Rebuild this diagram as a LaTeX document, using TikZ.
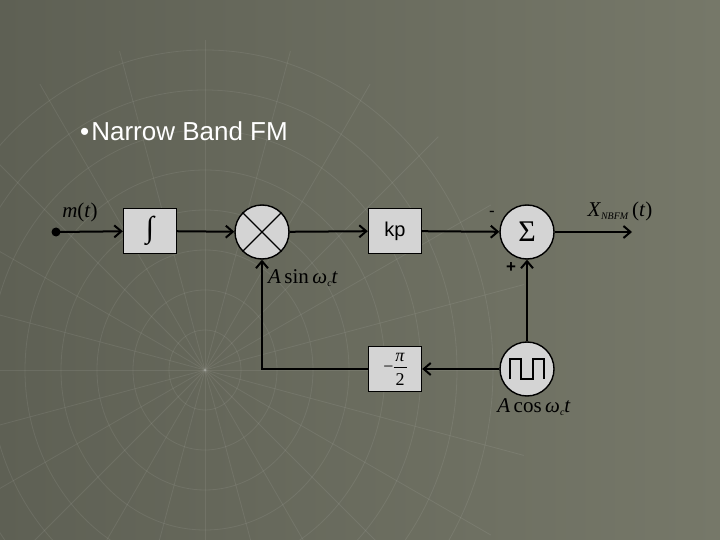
\documentclass[tikz,border=0pt]{standalone}
\usepackage{fontspec}
\usetikzlibrary{arrows.meta}
\setmainfont{Liberation Serif}
\setsansfont{Liberation Sans}
\definecolor{bgl}{HTML}{5E6054}
\definecolor{bgr}{HTML}{767869}
\definecolor{boxf}{HTML}{D4D4D4}
\newcommand{\sub}[1]{\raisebox{-0.35ex}{\fontsize{10}{10}\selectfont #1}}
\begin{document}
\begin{tikzpicture}[x=1pt,y=-1pt,
  blk/.style={draw=black,line width=1.4pt,fill=boxf,minimum width=53pt,minimum height=45pt,inner sep=0pt},
  circ/.style={draw=black,line width=1.4pt,fill=boxf,circle,minimum size=54pt,inner sep=0pt},
  wire/.style={line width=2pt,-{Straight Barb[length=7pt,width=12pt,line width=2pt]}},
  lbl/.style={font=\fontsize{21}{22}\selectfont}]
\shade[left color=bgl, right color=bgr] (0,0) rectangle (720,540);
\useasboundingbox (0,0) rectangle (720,540);
\begin{scope}[draw=white,opacity=0.08,line width=0.8pt]
  \foreach \r in {40,80,...,320} \draw (205,370) ellipse ({\r*0.9} and \r);
  \foreach \a in {0,15,...,345} \draw (205,370) -- ++(\a:330);
\end{scope}
\node[anchor=west,font=\sffamily\fontsize{26}{28}\selectfont,text=white,inner sep=0pt] (title) at (80,131) {\fontsize{26}{26}\selectfont\textbullet\hspace{2pt}Narrow Band FM};
\fill (56,232) circle (4.5pt);
\coordinate (in) at (56,232);
\node[blk] (int) at (150,231) {\fontsize{30}{30}\selectfont ∫};
\node[circ] (mul) at (262,232) {};
\draw[line width=1.4pt] (mul.45) -- (mul.225) (mul.135) -- (mul.315);
\node[blk] (kp) at (395,231) {\sffamily\fontsize{20}{22}\selectfont kp};
\node[circ] (sum) at (527,232) {\fontsize{30}{30}\selectfont Σ};
\node[circ] (osc) at (527,369) {};
\draw[line width=1.8pt] (osc.center) ++(-17,10) -- ++(0,-20) -- ++(11,0) -- ++(0,20) -- ++(12,0) -- ++(0,-20) -- ++(11,0) -- ++(0,20);
\node[blk,align=center,font=\fontsize{18}{15}\selectfont] (ph) at (395,369) {\hphantom{−}\textit{π}\\[-4pt]−\rule[4pt]{13pt}{0.7pt}\\[-2pt]\hphantom{−}2};
\coordinate (out) at (632,232);
\draw[wire] (in) -- (int);
\draw[wire] (int) -- (mul);
\draw[wire] (mul) -- (kp);
\draw[wire] (kp) -- (sum);
\draw[wire] (sum) -- (out);
\draw[wire] (osc) -- (sum);
\draw[wire] (osc) -- (ph);
\draw[wire] (ph.west) -| (mul.south);
\node[lbl] (mt) at (80,212) {\textit{m}(\textit{t})};
\node[lbl] (xo) at (620,211) {\textit{X}\sub{\textit{NBFM}}\,(\textit{t})};
\node[font=\sffamily\fontsize{17}{18}\selectfont] (mn) at (492,214) {-};
\node[font=\sffamily\bfseries\fontsize{17}{18}\selectfont] (pl) at (511,268) {+};
\node[lbl] (as) at (303,278) {\textit{A}\,sin\,\textit{ω}\sub{\textit{c}}\textit{t}};
\node[lbl] (ac) at (534,407) {\textit{A}\,cos\,\textit{ω}\sub{\textit{c}}\textit{t}};
\end{tikzpicture}
\end{document}
